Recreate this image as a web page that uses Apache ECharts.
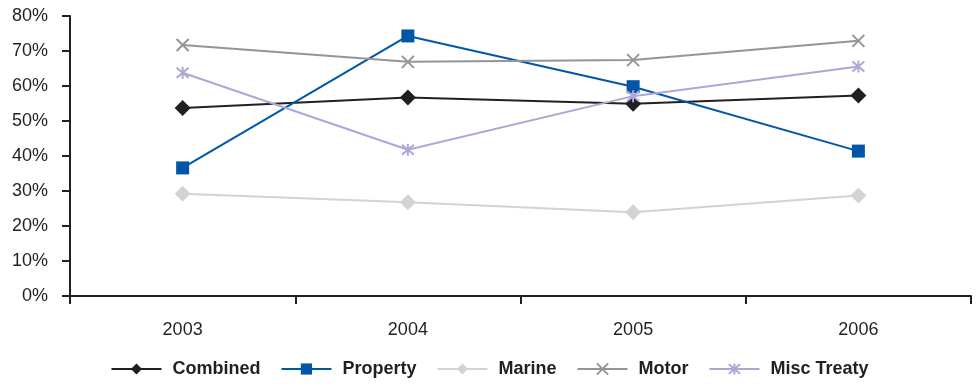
<!DOCTYPE html>
<html>
<head>
<meta charset="utf-8">
<script src="https://cdn.jsdelivr.net/npm/echarts@6/dist/echarts.min.js"></script>
<style>
  html, body { margin: 0; padding: 0; background: #fff; }
  #chart { width: 979px; height: 385px; }
</style>
</head>
<body>
<div id="chart"></div>
<script>
// Loss ratios by class of business, 2003-2006 (percent)
const years = ['2003', '2004', '2005', '2006'];
const combined = [53.7, 56.7, 54.9, 57.3];
const property = [36.6, 74.3, 59.8, 41.4];
const marine = [29.2, 26.8, 23.9, 28.7];
const motor = [71.7, 66.9, 67.4, 72.9];
const miscTreaty = [63.8, 41.8, 57.1, 65.6];
const yTicks = { min: 0, max: 80, step: 10 };

const crossPath = 'path://M0,0 L10,10 M10,0 L0,10';
const starPath = 'path://M0,0 L10,10 M10,0 L0,10 M5,-1 L5,11';
const textColor = '#231F20';
const font = '"Liberation Sans", Arial, sans-serif';

function lineSeries(name, data, color, symbol, size, stroked) {
  return {
    name: name,
    type: 'line',
    data: data,
    symbol: symbol,
    symbolSize: size,
    showAllSymbol: true,
    lineStyle: { color: color, width: 2 },
    itemStyle: stroked
      ? { color: 'rgba(0,0,0,0)', borderColor: color, borderWidth: 2 }
      : { color: color, borderColor: color, borderWidth: 0 },
    emphasis: { disabled: true },
    z: 3
  };
}

const chart = echarts.init(document.getElementById('chart'), null, { renderer: 'canvas' });
chart.setOption({
  animation: false,
  backgroundColor: '#ffffff',
  grid: { left: 70, right: 8, top: 16, bottom: 89, containLabel: false },
  legend: {
    bottom: 2,
    left: 'center',
    itemWidth: 50,
    itemHeight: 14,
    itemGap: 20,
    textStyle: {
      fontFamily: font, fontSize: 18, fontWeight: 'bold', color: textColor,
      padding: [0, 0, 0, 6]
    },
    data: ['Combined', 'Property', 'Marine', 'Motor', 'Misc Treaty']
  },
  xAxis: {
    type: 'category',
    data: years,
    boundaryGap: true,
    axisLine: { show: true, lineStyle: { color: textColor, width: 2 } },
    axisTick: { show: true, length: 8, inside: false, alignWithLabel: false,
                lineStyle: { color: textColor, width: 2 } },
    axisLabel: { margin: 25, fontFamily: font, fontSize: 18, color: textColor },
    splitLine: { show: false }
  },
  yAxis: {
    type: 'value',
    min: yTicks.min,
    max: yTicks.max,
    interval: yTicks.step,
    axisLine: { show: true, lineStyle: { color: textColor, width: 2 } },
    axisTick: { show: true, length: 8, inside: false,
                lineStyle: { color: textColor, width: 2 } },
    axisLabel: { margin: 22, fontFamily: font, fontSize: 18, color: textColor,
                 formatter: v => v + '%' },
    splitLine: { show: false }
  },
  series: [
    lineSeries('Combined', combined, '#231F20', 'diamond', 16, false),
    lineSeries('Property', property, '#0057A8', 'rect', 13, false),
    lineSeries('Marine', marine, '#D2D3D5', 'diamond', 16, false),
    lineSeries('Motor', motor, '#939598', crossPath, 12, true),
    lineSeries('Misc Treaty', miscTreaty, '#ADA7D6', starPath, 12, true)
  ]
});
</script>
</body>
</html>
